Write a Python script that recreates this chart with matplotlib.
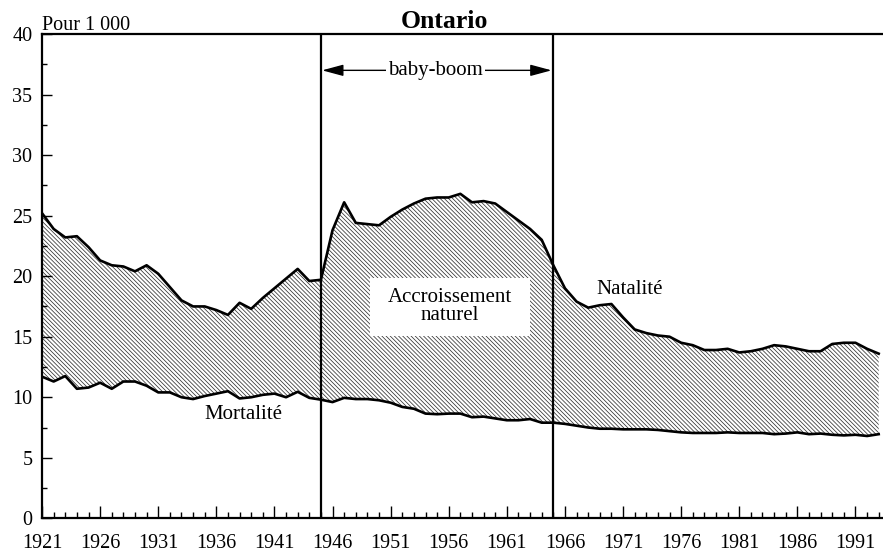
# ontario_natalite.py
# Natalité et mortalité, Ontario 1921-1993 (pour 1 000)

import matplotlib
matplotlib.use("Agg")
import matplotlib.pyplot as plt
from matplotlib.patches import Rectangle
from matplotlib.ticker import MultipleLocator

plt.rcParams["font.family"] = ["Liberation Serif", "DejaVu Serif"]
plt.rcParams["hatch.linewidth"] = 0.55
plt.rcParams["hatch.color"] = "#333333"

# ── données ──────────────────────────────────────────────
years = list(range(1921, 1994))

natalite = [
    25.2, 23.9, 23.2, 23.3, 22.4, 21.3, 20.9, 20.8, 20.4, 20.9,   # 1921-1930
    20.2, 19.1, 18.0, 17.5, 17.5, 17.2, 16.8, 17.8, 17.3, 18.2,   # 1931-1940
    19.0, 19.8, 20.6, 19.6, 19.7, 23.8, 26.1, 24.4, 24.3, 24.2,   # 1941-1950
    24.9, 25.5, 26.0, 26.4, 26.5, 26.5, 26.8, 26.1, 26.2, 26.0,   # 1951-1960
    25.3, 24.6, 23.9, 23.0, 20.9, 19.0, 17.9, 17.4, 17.6, 17.7,   # 1961-1970
    16.6, 15.6, 15.3, 15.1, 15.0, 14.5, 14.3, 13.9, 13.9, 14.0,   # 1971-1980
    13.7, 13.8, 14.0, 14.3, 14.2, 14.0, 13.8, 13.8, 14.4, 14.5,   # 1981-1990
    14.5, 14.0, 13.6,                                             # 1991-1993
]

mortalite = [
    11.7, 11.3, 11.75, 10.7, 10.8, 11.2, 10.7, 11.3, 11.3, 10.95,
    10.4, 10.4, 10.0, 9.85, 10.1, 10.3, 10.5, 9.9, 10.0, 10.2,
    10.3, 10.0, 10.45, 9.95, 9.8, 9.6, 9.95, 9.85, 9.85, 9.75,
    9.55, 9.2, 9.05, 8.65, 8.6, 8.65, 8.65, 8.35, 8.4, 8.25,
    8.1, 8.1, 8.2, 7.9, 7.9, 7.8, 7.65, 7.5, 7.4, 7.4,
    7.35, 7.35, 7.35, 7.3, 7.2, 7.1, 7.05, 7.05, 7.05, 7.1,
    7.05, 7.05, 7.05, 6.95, 7.0, 7.1, 6.95, 7.0, 6.9, 6.85,
    6.9, 6.8, 6.95,
]

boom_start, boom_end = 1945, 1965
xtick_years = list(range(1921, 1992, 5))

# ── figure ───────────────────────────────────────────────
fig = plt.figure(figsize=(8.83, 5.54), dpi=100)
ax = fig.add_axes([0.0476, 0.0644, 0.9524, 0.8742])

# zone hachurée (accroissement naturel)
ax.fill_between(years, mortalite, natalite, facecolor="white",
                edgecolor="#333333", hatch="\\" * 8, linewidth=0)
ax.plot(years, natalite, color="black", linewidth=1.9)
ax.plot(years, mortalite, color="black", linewidth=1.9)

# bornes du baby-boom
for yr in (boom_start, boom_end):
    ax.axvline(yr, color="black", linewidth=1.6)

ax.annotate("", xy=(boom_start + 0.1, 37.0), xytext=(boom_end - 0.15, 37.0),
            arrowprops=dict(arrowstyle="<|-|>,head_length=1.3,head_width=0.35",
                            color="black", lw=1.0, shrinkA=0, shrinkB=0))
ax.text((boom_start + boom_end) / 2 - 0.15, 37.0, "baby-boom", ha="center", va="center",
        fontsize=15, bbox=dict(boxstyle="square,pad=0.1", facecolor="white",
                               edgecolor="none"))

# étiquette au centre de la zone
ax.add_patch(Rectangle((1949.2, 15.05), 13.8, 4.8, facecolor="white",
                       edgecolor="none", zorder=3))
ax.text(1956.1, 17.5, "Accroissement\nnaturel", ha="center", va="center",
        fontsize=15, linespacing=0.95, zorder=4)

ax.text(1938.3, 8.6, "Mortalité", ha="center", va="center", fontsize=15)
ax.text(1971.6, 18.9, "Natalité", ha="center", va="center", fontsize=15)

# ── axes ─────────────────────────────────────────────────
ax.set_xlim(1921, 1993.37)
ax.set_ylim(0, 40)
ax.set_xticks(xtick_years)
ax.xaxis.set_minor_locator(MultipleLocator(1))
ax.yaxis.set_major_locator(MultipleLocator(5))
ax.yaxis.set_minor_locator(MultipleLocator(2.5))

ax.tick_params(axis="x", which="major", direction="in", length=8.5, width=1.0,
               labelsize=14.5, pad=11)
ax.tick_params(axis="x", which="minor", direction="in", length=4.3, width=1.0)
ax.tick_params(axis="y", which="major", direction="in", length=7.2, width=1.0,
               labelsize=14.5, pad=7)
ax.tick_params(axis="y", which="minor", direction="in", length=3.6, width=1.0)

for side in ("left", "bottom", "top"):
    ax.spines[side].set_linewidth(1.6)
ax.spines["right"].set_visible(False)

ax.text(0.0, 1.008, "Pour 1 000", transform=ax.transAxes, ha="left",
        va="baseline", fontsize=14.5)
ax.text(0.479, 1.0124, "Ontario", transform=ax.transAxes, ha="center",
        va="baseline", fontsize=18.5, fontweight="bold")

fig.savefig("out.png", dpi=100)
